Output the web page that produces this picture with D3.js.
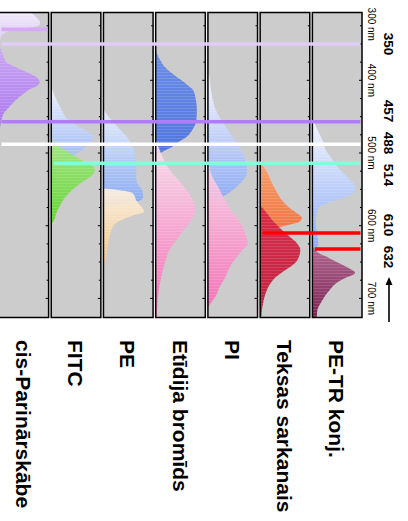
<!DOCTYPE html>
<html>
<head>
<meta charset="utf-8">
<script src="https://cdn.jsdelivr.net/npm/d3@7"></script>
<style>
  body { margin: 0; background: #fff; }
  svg { display: block; font-family: "Liberation Sans", Arial, sans-serif; }
</style>
</head>
<body>
<div id="container"></div>
<script>
// dyes, left to right
const dyes = ["cis-Parinārskābe", "FITC", "PE", "Etīdija bromīds", "PI", "Teksas sarkanais", "PE-TR konj."];

// [wavelength nm, relative intensity 0-100]
const cisEx = [[300,56],[306,64],[310,70],[314,76],[321,83],[325,80],[329,50],[332,24],[336,10],[340,4],[351,2],[361,0]];
const cisEm = [[351,0],[358,4],[365,8],[372,12],[376,16],[382,34],[389,56],[396,76],[402,82],[407,78],[411,66],[418,50],[427,34],[437,20],[445,10],[452,6],[462,3],[473,0]];
const fitcEx = [[406,0],[413,2],[427,11],[441,21],[455,35],[464,55],[471,75],[478,85],[482,82],[496,62],[505,42],[514,26],[523,12],[537,6],[547,0]];
const fitcEm = [[480,0],[482,2],[492,18],[500,38],[510,62],[517,80],[523,88],[532,80],[541,60],[551,42],[561,28],[572,18],[583,10],[592,6],[598,0]];
const peEx = [[437,0],[440,1],[446,6],[455,16],[464,28],[474,42],[482,52],[496,61],[514,66],[533,66],[544,70],[551,78],[560,80],[565,76],[569,40],[573,10],[577,0]];
const peEm = [[549,0],[552,40],[556,60],[565,66],[571,72],[577,80],[581,82],[585,64],[591,40],[596,26],[603,18],[613,13],[627,9],[640,6],[651,3],[658,0]];
const etbrEx = [[358,0],[362,2],[372,9],[382,19],[390,32],[400,52],[407,65],[413,75],[427,81],[441,83],[455,82],[468,74],[478,62],[485,46],[492,32],[496,20],[500,10],[504,0]];
const etbrEm = [[482,0],[496,8],[506,14],[519,24],[533,40],[547,58],[565,75],[578,80],[592,72],[606,56],[620,42],[633,28],[650,19],[671,11],[691,6],[712,3],[730,2]];
const piEx = [[389,0],[393,2],[413,6],[441,16],[460,32],[478,50],[496,66],[510,76],[521,79],[530,78],[541,66],[551,50],[559,32],[563,16],[566,0]];
const piEm = [[496,0],[523,4],[551,24],[565,34],[578,46],[596,66],[616,78],[625,80],[633,70],[643,58],[657,44],[671,35],[684,24],[698,15],[708,4],[712,0]];
const txEx = [[510,0],[517,4],[523,11],[537,21],[551,31],[565,44],[576,60],[583,74],[589,84],[595,78],[600,50],[605,16],[607,0]];
const txEm = [[572,0],[578,8],[585,16],[592,24],[599,34],[606,44],[616,61],[624,74],[633,81],[643,78],[651,71],[661,51],[671,31],[679,21],[693,11],[706,6],[720,3],[730,2]];
const petrEx = [[452,0],[455,2],[468,10],[482,20],[496,27],[506,37],[519,50],[533,70],[544,84],[551,86],[558,77],[565,47],[572,20],[578,10],[596,7],[613,10],[624,12],[633,8],[642,0]];
const petrEm = [[627,0],[633,6],[639,16],[643,30],[647,40],[653,58],[658,72],[665,86],[672,66],[679,48],[689,34],[698,24],[706,17],[716,10],[726,9]];

const excitation = [cisEx, fitcEx, peEx, etbrEx, piEx, txEx, petrEx];
const emission = [cisEm, fitcEm, peEm, etbrEm, piEm, txEm, petrEm];

// gradient colours, short wavelength -> long wavelength
const exColors = [["#f3eefb","#d4bff0"],["#eef2fc","#86a6f0"],["#eaf0fb","#84a6f0"],["#6e8ee8","#4f76da"],["#f8f8fc","#8eaaf4"],["#f8a068","#f07444"],["#f4f6fc","#86a8f6"]];
const emColors = [["#cca6f8","#a56cf0"],["#a4e880","#5ad428"],["#fcf0e0","#f6c480"],["#fae2f0","#f864b2"],["#f8dcec","#f86cb6"],["#d82444","#be1030"],["#b0628e","#741448"]];

// laser lines
const laserNm = [330, 350, 457, 488, 514, 610, 632];
const laserColors = ["#d8a8f8", "#e0ccf8", "#b07cf8", "#ffffff", "#80ffd8", "#ff0000", "#ff0000"];
const laserFrom = [0, 0, 0, 0, 1, 5, 6];
const laserTo = [0, 6, 6, 6, 6, 6, 6];
const laserLabels = ["350", "457", "488", "514", "610", "632"];

const axisNm = [300, 400, 500, 600, 700];
const tickNm = d3.range(325, 701, 25);

const width = 408, height = 521;
const panelTop = 12.5, panelBottom = 317.5;

const svg = d3.select("#container").append("svg")
  .attr("width", width)
  .attr("height", height);

const x = d3.scaleBand().domain(dyes).range([-1, 362]).paddingInner(0.05);
const y = d3.scaleLinear().domain([300, 700]).range([7.6, 298.4]);
const w = d3.scaleLinear().domain([0, 100]).range([0, x.bandwidth()]);

const defs = svg.append("defs");

function grad(id, cols) {
  const g = defs.append("linearGradient").attr("id", id)
    .attr("x1", 0).attr("y1", 0).attr("x2", 0).attr("y2", 1);
  g.append("stop").attr("offset", "0%").attr("stop-color", cols[0]);
  g.append("stop").attr("offset", "100%").attr("stop-color", cols[1]);
}

// faint horizontal banding like the original bitmap fills
const stripes = defs.append("pattern").attr("id", "stripes")
  .attr("patternUnits", "userSpaceOnUse").attr("width", 8).attr("height", 3);
stripes.append("rect").attr("width", 8).attr("height", 1).attr("fill", "#fff").attr("fill-opacity", 0.13);

dyes.forEach((d, i) => {
  grad("ex" + i, exColors[i]);
  grad("em" + i, emColors[i]);
  defs.append("clipPath").attr("id", "clip" + i)
    .append("rect")
    .attr("x", x(d)).attr("y", panelTop)
    .attr("width", x.bandwidth()).attr("height", panelBottom - panelTop);
});

const panels = svg.selectAll("g.panel")
  .data(dyes)
  .join("g")
  .attr("class", "panel");

panels.append("rect")
  .attr("x", d => x(d)).attr("y", panelTop)
  .attr("width", x.bandwidth()).attr("height", panelBottom - panelTop)
  .attr("fill", "#cccccc");

const area = (x0) => d3.area()
  .curve(d3.curveMonotoneY)
  .y(d => y(d[0]))
  .x0(x0)
  .x1(d => x0 + w(d[1]));

panels.each(function (d, i) {
  const g = d3.select(this).append("g").attr("clip-path", `url(#clip${i})`);
  const x0 = x(d);
  g.append("path").attr("d", area(x0)(excitation[i])).attr("fill", `url(#ex${i})`);
  g.append("path").attr("d", area(x0)(excitation[i])).attr("fill", "url(#stripes)");
  g.append("path").attr("d", area(x0)(emission[i])).attr("fill", `url(#em${i})`).attr("fill-opacity", 0.92);
  g.append("path").attr("d", area(x0)(emission[i])).attr("fill", "url(#stripes)");
  // small ticks on right edge
  g.selectAll("line.tick")
    .data(tickNm)
    .join("line")
    .attr("x1", x0 + x.bandwidth())
    .attr("x2", t => x0 + x.bandwidth() - (t % 100 === 0 ? 3 : 2))
    .attr("y1", t => y(t)).attr("y2", t => y(t))
    .attr("stroke", "#000").attr("stroke-width", 1);
});

panels.append("rect")
  .attr("x", d => x(d)).attr("y", panelTop)
  .attr("width", x.bandwidth()).attr("height", panelBottom - panelTop)
  .attr("fill", "none")
  .attr("stroke", "#000").attr("stroke-width", 1.5);

// laser lines on top
svg.selectAll("line.laser")
  .data(laserNm)
  .join("line")
  .attr("class", "laser")
  .attr("x1", (d, i) => x(dyes[laserFrom[i]]) + 2.5)
  .attr("x2", (d, i) => x(dyes[laserTo[i]]) + x.bandwidth() - 1.5)
  .attr("y1", d => y(d)).attr("y2", d => y(d))
  .attr("stroke", (d, i) => laserColors[i])
  .attr("stroke-width", 3.6);

// wavelength labels
svg.selectAll("text.nm")
  .data(axisNm)
  .join("text")
  .attr("class", "nm")
  .attr("transform", d => `translate(367.5,${y(d)}) rotate(90)`)
  .attr("text-anchor", d => d === 300 ? "start" : "middle")
  .attr("font-size", 10)
  .text(d => d + " nm");

// laser labels, spread apart so they don't overlap
const minGap = 32;
const labelPos = laserLabels.map(l => y(+l));
for (let k = 0; k < 100; k++) {
  for (let j = 1; j < labelPos.length; j++) {
    const gap = labelPos[j] - labelPos[j - 1];
    if (gap < minGap) {
      const push = (minGap - gap) / 2;
      labelPos[j - 1] -= push;
      labelPos[j] += push;
    }
  }
}

svg.selectAll("text.laser")
  .data(laserLabels)
  .join("text")
  .attr("class", "laser")
  .attr("transform", (d, i) => `translate(383.5,${labelPos[i]}) rotate(90)`)
  .attr("text-anchor", "middle")
  .attr("dominant-baseline", "alphabetic")
  .attr("font-size", 13.5)
  .attr("font-weight", "bold")
  .text(d => d);

// arrow
svg.append("line")
  .attr("x1", 389).attr("x2", 389)
  .attr("y1", 322).attr("y2", 283)
  .attr("stroke", "#000").attr("stroke-width", 1.6);
svg.append("path")
  .attr("d", "M389,277L385.5,285L392.5,285Z")
  .attr("fill", "#000");

// dye names
svg.selectAll("text.dye")
  .data(dyes)
  .join("text")
  .attr("class", "dye")
  .attr("transform", d => `translate(${x(d) + x.bandwidth() / 2 - 8},340) rotate(90)`)
  .attr("font-size", 21)
  .attr("font-weight", "bold")
  .text(d => d);
</script>
</body>
</html>
